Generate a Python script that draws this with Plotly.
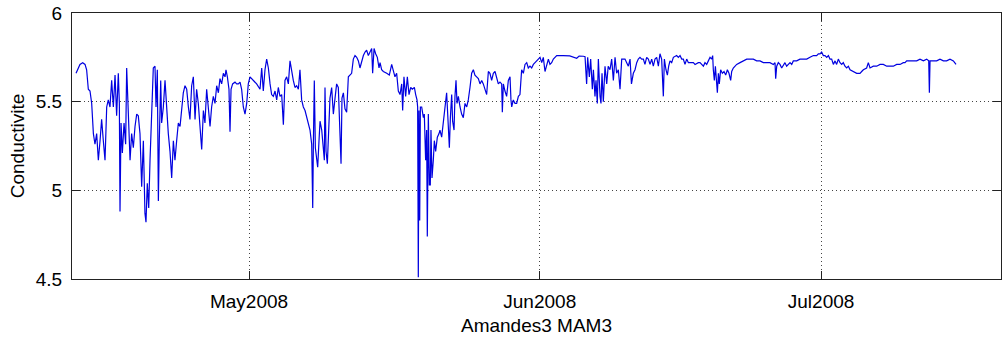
import pandas as pd
import plotly.graph_objects as go

# time in days since 2008-04-12 00:00, conductivity values
day_offsets = [
    0.55, 0.97, 1.26, 1.51, 1.68, 1.86, 2.04, 2.22, 2.40, 2.57, 2.75, 2.93, 3.11, 3.28, 3.46, 3.64,
    3.82, 3.99, 4.17, 4.35, 4.53, 4.71, 4.88, 5.06, 5.17, 5.24, 5.35, 5.49, 5.67, 5.84, 5.95, 6.13,
    6.31, 6.48, 6.66, 6.84, 7.02, 7.19, 7.37, 7.55, 7.73, 7.90, 8.01, 8.15, 8.30, 8.44, 8.62, 8.79,
    8.97, 9.08, 9.22, 9.33, 9.43, 9.58, 9.68, 9.86, 10.04, 10.22, 10.39, 10.57, 10.75, 10.93, 11.10,
    11.28, 11.46, 11.64, 11.82, 11.99, 12.17, 12.35, 12.53, 12.70, 12.88, 13.06, 13.24, 13.41, 13.59,
    13.77, 13.95, 14.13, 14.30, 14.48, 14.66, 14.84, 15.01, 15.19, 15.37, 15.55, 15.73, 15.90, 16.08,
    16.26, 16.44, 16.54, 16.69, 16.86, 16.97, 17.08, 17.25, 17.50, 17.68, 17.86, 18.04, 18.21, 18.39,
    18.57, 18.75, 18.92, 19.10,
    19.46, 19.81, 20.17, 20.35, 20.52, 20.70, 20.88, 21.06, 21.24, 21.41, 21.59, 21.77, 21.95, 22.12,
    22.30, 22.48, 22.66, 22.83, 23.01, 23.19, 23.37, 23.55, 23.72, 23.90, 24.08, 24.26, 24.43, 24.61,
    24.79, 24.97, 25.15, 25.32, 25.50, 25.68, 25.75, 25.79, 25.86, 25.96, 26.07, 26.21, 26.32, 26.46,
    26.57, 26.75, 26.92, 27.03, 27.10, 27.21, 27.35, 27.46, 27.63, 27.81, 27.99, 28.17, 28.34, 28.52,
    28.70, 28.81, 28.91, 29.06, 29.23, 29.41, 29.59, 29.77, 29.94, 30.12, 30.30, 30.48, 30.66, 30.83,
    31.01, 31.19, 31.37, 31.54, 31.72, 31.90, 32.08, 32.18, 32.33, 32.50, 32.68, 32.86, 32.97, 33.14,
    33.32, 33.68, 33.96,
    34.21, 34.39, 34.56, 34.74, 34.92, 35.10, 35.28, 35.38, 35.52, 35.70, 35.88, 36.06, 36.24, 36.41,
    36.63, 36.77, 36.91, 36.98, 37.05, 37.12, 37.20, 37.27, 37.41, 37.59, 37.69, 37.83, 37.94, 38.01,
    38.12, 38.23, 38.33, 38.40, 38.51, 38.65, 38.76, 38.90, 39.08, 39.26, 39.36, 39.54, 39.72, 39.90,
    40.07, 40.25, 40.36, 40.47, 40.61, 40.71, 40.86, 40.96, 41.07, 41.18, 41.32, 41.50, 41.67, 41.85,
    42.03, 42.21, 42.38, 42.56, 42.74, 42.92, 43.09, 43.27, 43.45, 43.63, 43.81, 43.98, 44.16, 44.34,
    44.52, 44.69, 44.87, 45.05, 45.23, 45.41, 45.58, 45.76, 45.94, 46.01, 46.12, 46.29, 46.47, 46.65,
    46.83, 46.93, 47.01, 47.18, 47.36, 47.54, 47.72, 47.89, 48.07, 48.25, 48.43, 48.61, 48.78, 48.96,
    49.14, 49.32, 49.49, 49.67, 49.85, 50.03,
    50.21, 50.38, 50.56, 50.74, 50.92, 51.09, 51.27, 51.45, 51.81, 52.50, 53.20, 53.94, 54.20, 54.65,
    54.83, 55.00, 55.11, 55.29, 55.43, 55.61, 55.72, 55.89, 56.00, 56.14, 56.25, 56.43, 56.53, 56.64,
    56.78, 56.96, 57.14, 57.30, 57.49, 57.67, 57.85, 58.03, 58.20, 58.38, 58.56, 58.74, 58.91, 59.09,
    59.27, 59.45, 59.63, 59.78, 59.98, 60.16, 60.34, 60.51, 60.69, 60.87, 61.05, 61.22, 61.40, 61.58,
    61.76, 61.94, 62.11, 62.29, 62.47, 62.65, 62.82, 63.00, 63.18, 63.29, 63.46, 63.61, 63.75, 63.89,
    64.07, 64.25, 64.60, 64.78, 64.96, 65.14, 65.31, 65.49, 65.67, 65.85, 66.02, 66.20, 66.38, 66.56,
    66.91,
    67.09, 67.45, 67.62, 67.80, 67.98, 68.16, 68.33, 68.44, 68.51, 68.62, 68.73, 68.87, 68.94, 69.05,
    69.15, 69.29, 69.47, 69.65, 69.83, 70.01, 70.18, 70.36, 70.47, 70.64, 70.82, 71.00, 71.36, 71.71,
    72.07, 72.42, 72.78, 73.13, 73.49, 73.84, 74.20, 74.55, 74.91, 75.09, 75.16, 75.27, 75.44, 75.62,
    75.80, 75.98, 76.15, 76.33, 76.51, 76.69, 76.87, 77.04, 77.40, 77.75, 78.11, 78.47, 78.82, 79.18,
    79.53, 79.71, 79.89, 80.06, 80.24, 80.42, 80.60, 80.78, 80.95, 81.13, 81.31, 81.49, 81.66, 81.84,
    82.02, 82.20, 82.37, 82.55, 82.73, 82.91, 83.09, 83.44, 83.80, 84.08,
    84.15, 84.33, 84.51, 84.86, 85.04, 85.22, 85.57, 85.93, 86.29, 86.64, 87.00, 87.35, 87.71, 88.06,
    88.42, 88.77, 88.95, 89.13, 89.49, 89.84, 90.20, 90.55, 90.91, 91.26, 91.48, 91.55, 91.62, 91.97,
    92.33, 92.68, 93.04, 93.39, 93.75, 94.11, 94.28, 94.39,
]

conductivity = [
    5.66, 5.71, 5.72, 5.71, 5.68, 5.57, 5.56, 5.49, 5.32, 5.26, 5.32, 5.17, 5.28, 5.40, 5.28, 5.17,
    5.47, 5.51, 5.47, 5.62, 5.47, 5.65, 5.42, 5.66, 5.49, 4.88, 5.38, 5.21, 5.38, 5.26, 5.69, 5.38,
    5.17, 5.32, 5.24, 5.36, 5.43, 5.42, 5.32, 5.02, 5.28, 4.87, 4.82, 5.04, 4.90, 5.17, 5.47, 5.69,
    5.70, 5.47, 5.68, 4.94, 5.28, 5.62, 5.38, 5.47, 5.62, 5.43, 5.32, 5.22, 5.07, 5.28, 5.17,
    5.28, 5.38, 5.36, 5.47, 5.55, 5.59, 5.57, 5.47, 5.40, 5.59, 5.64, 5.40, 5.57, 5.49,
    5.36, 5.23, 5.45, 5.38, 5.57, 5.47, 5.36, 5.47, 5.53, 5.49, 5.59, 5.55, 5.63, 5.60,
    5.66, 5.64, 5.68, 5.64, 5.57, 5.33, 5.57, 5.60, 5.61, 5.60, 5.60, 5.61, 5.57, 5.47,
    5.43, 5.49, 5.60, 5.64,
    5.62, 5.60, 5.57, 5.69, 5.56, 5.68, 5.74, 5.69, 5.60, 5.54, 5.53, 5.56, 5.51, 5.58,
    5.53, 5.54, 5.37, 5.62, 5.64, 5.60, 5.73, 5.66, 5.62, 5.58, 5.59, 5.57, 5.68, 5.51,
    5.47, 5.45, 5.41, 5.37, 5.34, 5.26, 5.11, 4.90, 5.26, 5.62, 5.24, 5.19, 5.13, 5.28,
    5.39, 5.34, 5.26, 5.17, 5.58, 5.22, 5.15, 5.32, 5.52, 5.58, 5.43, 5.52, 5.60, 5.58,
    5.22, 5.15, 5.52, 5.55, 5.46, 5.44, 5.64, 5.65, 5.66, 5.74, 5.76, 5.75, 5.73, 5.69,
    5.73, 5.76, 5.78, 5.79, 5.76, 5.78, 5.80, 5.66, 5.80, 5.77, 5.75, 5.69, 5.72, 5.68,
    5.67, 5.66, 5.65,
    5.71, 5.68, 5.64, 5.66, 5.56, 5.54, 5.60, 5.45, 5.64, 5.53, 5.64, 5.54, 5.58, 5.57,
    5.58, 5.54, 5.51, 5.47, 4.51, 5.45, 4.83, 5.47, 5.47, 5.41, 5.43, 5.17, 5.34, 4.74,
    5.43, 5.03, 5.03, 5.34, 5.07, 5.17, 5.28, 5.22, 5.30, 5.32, 5.34, 5.30, 5.39, 5.47,
    5.55, 5.36, 5.24, 5.41, 5.54, 5.39, 5.34, 5.53, 5.62, 5.49, 5.53, 5.47, 5.43, 5.41,
    5.49, 5.47, 5.51, 5.58, 5.66, 5.68, 5.65, 5.64, 5.63, 5.60, 5.62, 5.60, 5.57, 5.54,
    5.67, 5.66, 5.62, 5.66, 5.67, 5.64, 5.60, 5.61, 5.60, 5.44, 5.60, 5.56, 5.53, 5.62,
    5.64, 5.51, 5.47, 5.51, 5.49, 5.49, 5.53, 5.54, 5.68, 5.66, 5.71, 5.72, 5.69, 5.70,
    5.69, 5.71, 5.72, 5.73, 5.74, 5.75,
    5.72, 5.75, 5.67, 5.71, 5.74, 5.71, 5.72, 5.74, 5.76, 5.76, 5.758, 5.745, 5.757, 5.756,
    5.754, 5.60, 5.75, 5.64, 5.74, 5.57, 5.68, 5.53, 5.62, 5.49, 5.74, 5.53, 5.49, 5.66,
    5.50, 5.70, 5.60, 5.70, 5.68, 5.74, 5.62, 5.75, 5.66, 5.68, 5.57, 5.74, 5.74, 5.74,
    5.72, 5.70, 5.74, 5.60, 5.66, 5.68, 5.72, 5.74, 5.75, 5.74, 5.74, 5.71, 5.75, 5.74,
    5.71, 5.74, 5.70, 5.74, 5.75, 5.70, 5.77, 5.74, 5.53, 5.74, 5.68, 5.65, 5.70, 5.73,
    5.72, 5.75, 5.76, 5.75, 5.76, 5.74, 5.74, 5.71, 5.74, 5.72, 5.72, 5.72, 5.72, 5.71,
    5.72,
    5.72, 5.70, 5.72, 5.71, 5.73, 5.75, 5.74, 5.76, 5.68, 5.62, 5.70, 5.60, 5.55, 5.66,
    5.60, 5.68, 5.66, 5.67, 5.65, 5.68, 5.66, 5.62, 5.67, 5.69, 5.70, 5.71, 5.72, 5.73,
    5.74, 5.74, 5.74, 5.73, 5.73, 5.72, 5.72, 5.72, 5.71, 5.72, 5.63, 5.70, 5.72, 5.71,
    5.69, 5.71, 5.72, 5.70, 5.71, 5.72, 5.71, 5.73, 5.73, 5.74, 5.74, 5.74, 5.75, 5.76,
    5.76, 5.77, 5.77, 5.78, 5.76, 5.76, 5.75, 5.76, 5.74, 5.74, 5.71, 5.73, 5.71, 5.74,
    5.72, 5.71, 5.72, 5.70, 5.69, 5.70, 5.68, 5.67, 5.66, 5.66,
    5.66, 5.67, 5.68, 5.69, 5.72, 5.69, 5.70, 5.70, 5.71, 5.71, 5.70, 5.70, 5.70, 5.71,
    5.71, 5.72, 5.72, 5.73, 5.73, 5.73, 5.73, 5.74, 5.73, 5.74, 5.73, 5.55, 5.73, 5.73,
    5.73, 5.74, 5.73, 5.73, 5.74, 5.73, 5.72, 5.71,
]

start_date = "2008-04-12"
x_range = ["2008-04-12 02:53", "2008-07-20 04:30"]
y_range = [4.5, 6]
y_ticks = [4.5, 5, 5.5, 6]
y_tick_text = ["4.5", "5", "5.5", "6"]
x_ticks = ["2008-05-01", "2008-06-01", "2008-07-01"]
x_tick_text = ["May2008", "Jun2008", "Jul2008"]
x_title = "Amandes3 MAM3"
y_title = "Conductivite"

times = pd.Timestamp(start_date) + pd.to_timedelta(day_offsets, unit="D")

FONT = "Liberation Sans, Arial, Helvetica, sans-serif"

fig = go.Figure()
fig.add_trace(go.Scatter(
    x=times, y=conductivity, mode="lines",
    line=dict(color="#0000e0", width=1.2),
    showlegend=False, hoverinfo="skip",
))

axis_common = dict(
    showline=True, linecolor="#222222", linewidth=1, mirror="ticks",
    ticks="inside", ticklen=8, tickwidth=1, tickcolor="#222222",
    showgrid=True, gridcolor="#444444", gridwidth=1, griddash="1px,3px",
    zeroline=False,
    tickfont=dict(family=FONT, size=19, color="#000000"),
)

fig.update_layout(
    width=1003, height=343,
    margin=dict(l=72, r=2, t=13, b=64),
    paper_bgcolor="#ffffff", plot_bgcolor="#ffffff",
    font=dict(family=FONT, size=19, color="#000000"),
    xaxis=dict(
        range=x_range, tickmode="array", tickvals=x_ticks, ticktext=x_tick_text,
        ticklabelstandoff=5,
        title=dict(text=x_title, font=dict(family=FONT, size=19), standoff=7),
        **axis_common,
    ),
    yaxis=dict(
        range=y_range, tickmode="array", tickvals=y_ticks, ticktext=y_tick_text,
        ticklabelstandoff=5,
        title=dict(text=y_title, font=dict(family=FONT, size=19), standoff=6),
        **axis_common,
    ),
)

fig.write_html("out.html")
